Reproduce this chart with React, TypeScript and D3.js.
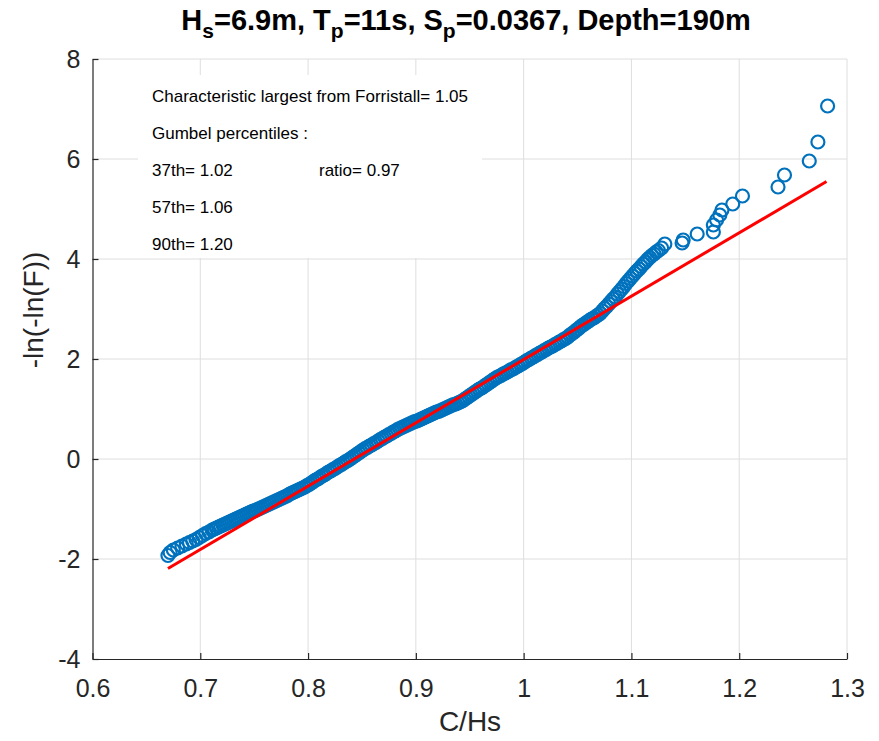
import React, { useRef, useEffect } from 'react';
import { select, scaleLinear, axisBottom, axisLeft, line } from 'd3';

const xTicks = [0.6, 0.7, 0.8, 0.9, 1, 1.1, 1.2, 1.3];
const yTicks = [-4, -2, 0, 2, 4, 6, 8];

// sorted samples, C/Hs vs reduced variate
const lowerTail = [
  [0.670, -1.93], [0.672, -1.87], [0.675, -1.82], [0.679, -1.78], [0.683, -1.74],
  [0.687, -1.70], [0.690, -1.67], [0.693, -1.64], [0.696, -1.61], [0.699, -1.57],
  [0.702, -1.53], [0.705, -1.49], [0.708, -1.46], [0.711, -1.42], [0.713, -1.40],
  [0.715, -1.38], [0.717, -1.36], [0.719, -1.34], [0.721, -1.32], [0.723, -1.30],
  [0.725, -1.28], [0.727, -1.26], [0.729, -1.24], [0.731, -1.22], [0.733, -1.20],
];

const mainBand = [
  [0.735, -1.18], [0.737, -1.16], [0.739, -1.14], [0.741, -1.12], [0.743, -1.10],
  [0.745, -1.08], [0.747, -1.06], [0.749, -1.04], [0.751, -1.03], [0.753, -1.01],
  [0.755, -0.99], [0.757, -0.97], [0.759, -0.95], [0.761, -0.93], [0.763, -0.91],
  [0.765, -0.89], [0.767, -0.87], [0.769, -0.85], [0.771, -0.83], [0.773, -0.81],
  [0.775, -0.79], [0.777, -0.77], [0.779, -0.75], [0.781, -0.73], [0.783, -0.70],
  [0.785, -0.68], [0.787, -0.66], [0.789, -0.64], [0.791, -0.62], [0.793, -0.60],
  [0.795, -0.58], [0.797, -0.56], [0.799, -0.53], [0.801, -0.51], [0.803, -0.48],
  [0.805, -0.45], [0.807, -0.42], [0.809, -0.40], [0.811, -0.37], [0.813, -0.34],
  [0.815, -0.32], [0.817, -0.29], [0.819, -0.26], [0.821, -0.24], [0.823, -0.21],
  [0.825, -0.19], [0.827, -0.16], [0.829, -0.13], [0.831, -0.11], [0.833, -0.08],
  [0.835, -0.05], [0.837, -0.03], [0.839, 0.00], [0.841, 0.03], [0.843, 0.06],
  [0.845, 0.09], [0.847, 0.12], [0.849, 0.15], [0.851, 0.18], [0.853, 0.21],
  [0.855, 0.23], [0.857, 0.26], [0.859, 0.28], [0.861, 0.31], [0.863, 0.33],
  [0.865, 0.36], [0.867, 0.39], [0.869, 0.41], [0.871, 0.44], [0.873, 0.46],
  [0.875, 0.49], [0.877, 0.51], [0.879, 0.54], [0.881, 0.56], [0.883, 0.59],
  [0.885, 0.61], [0.887, 0.63], [0.889, 0.65], [0.891, 0.67], [0.893, 0.69],
  [0.895, 0.71], [0.897, 0.73], [0.899, 0.75], [0.901, 0.76], [0.903, 0.78],
  [0.905, 0.80], [0.907, 0.82], [0.909, 0.84], [0.911, 0.86], [0.913, 0.88],
  [0.915, 0.90], [0.917, 0.92], [0.919, 0.94], [0.921, 0.95], [0.923, 0.97],
  [0.925, 0.99], [0.927, 1.01], [0.929, 1.03], [0.931, 1.05], [0.933, 1.07],
  [0.935, 1.09], [0.937, 1.10], [0.939, 1.12], [0.941, 1.14], [0.943, 1.16],
  [0.945, 1.19], [0.947, 1.22], [0.949, 1.25], [0.951, 1.28], [0.953, 1.31],
  [0.955, 1.34], [0.957, 1.37], [0.959, 1.40], [0.961, 1.42], [0.963, 1.45],
  [0.965, 1.48], [0.967, 1.51], [0.969, 1.54], [0.971, 1.57], [0.973, 1.60],
  [0.975, 1.63], [0.977, 1.65], [0.979, 1.67], [0.981, 1.70], [0.983, 1.72],
  [0.985, 1.74], [0.987, 1.77], [0.989, 1.79], [0.991, 1.81], [0.993, 1.84],
  [0.995, 1.86], [0.997, 1.89], [0.999, 1.91], [1.001, 1.94], [1.003, 1.97],
  [1.005, 1.99], [1.007, 2.02], [1.009, 2.04], [1.011, 2.07], [1.013, 2.09],
  [1.015, 2.12], [1.017, 2.14], [1.019, 2.17], [1.021, 2.19], [1.023, 2.22],
  [1.025, 2.24], [1.027, 2.26], [1.029, 2.29], [1.031, 2.31], [1.033, 2.34],
  [1.035, 2.36], [1.037, 2.39], [1.039, 2.41], [1.041, 2.44], [1.043, 2.48],
  [1.045, 2.51], [1.047, 2.54], [1.049, 2.58], [1.051, 2.61], [1.053, 2.65],
  [1.055, 2.68], [1.057, 2.71], [1.059, 2.74], [1.061, 2.77], [1.063, 2.80],
  [1.065, 2.82], [1.067, 2.85], [1.069, 2.88], [1.071, 2.91], [1.073, 2.96],
  [1.075, 3.01], [1.077, 3.05], [1.079, 3.10], [1.081, 3.15], [1.083, 3.20],
  [1.085, 3.24], [1.087, 3.30], [1.089, 3.35], [1.091, 3.40], [1.093, 3.45],
  [1.095, 3.51], [1.097, 3.56], [1.099, 3.61], [1.101, 3.66], [1.103, 3.71],
  [1.105, 3.76], [1.107, 3.80], [1.109, 3.85], [1.111, 3.90], [1.113, 3.94],
  [1.115, 3.99], [1.117, 4.03], [1.119, 4.07], [1.121, 4.10], [1.123, 4.14],
  [1.125, 4.17],
];

const upperTail = [
  [1.128, 4.22], [1.131, 4.3], [1.147, 4.32], [1.148, 4.38], [1.161, 4.5],
  [1.176, 4.54], [1.176, 4.68], [1.179, 4.78], [1.182, 4.88], [1.184, 4.98],
  [1.194, 5.1], [1.203, 5.26], [1.236, 5.44], [1.242, 5.68], [1.265, 5.96],
  [1.273, 6.34], [1.282, 7.06],
];

const fitLine = [[0.670, -2.19], [1.281, 5.55]];

const titleParts = [
  { t: 'H', sub: false }, { t: 's', sub: true }, { t: '=6.9m, T', sub: false },
  { t: 'p', sub: true }, { t: '=11s, S', sub: false }, { t: 'p', sub: true },
  { t: '=0.0367, Depth=190m', sub: false },
];

const notes = [
  { text: 'Characteristic largest from Forristall= 1.05', col: 0, row: 0 },
  { text: 'Gumbel percentiles :', col: 0, row: 1 },
  { text: '37th= 1.02', col: 0, row: 2 },
  { text: 'ratio= 0.97', col: 1, row: 2 },
  { text: '57th= 1.06', col: 0, row: 3 },
  { text: '90th= 1.20', col: 0, row: 4 },
];

const FONT = '"Liberation Sans", Arial, Helvetica, sans-serif';
const INK = '#262626';

function App() {
  const svgRef = useRef(null);

  useEffect(() => {
    const svg = select(svgRef.current);
    svg.selectAll('*').remove();

    const x = scaleLinear().domain([0.6, 1.3]).range([92.5, 847]);
    const y = scaleLinear().domain([-4, 8]).range([659, 59]);

    // grid
    const grid = svg.append('g').attr('stroke', '#dedede').attr('stroke-width', 1);
    grid.selectAll('.gx')
      .data(xTicks.slice(1))
      .join('line')
      .attr('x1', (d) => x(d)).attr('x2', (d) => x(d))
      .attr('y1', y(-4)).attr('y2', y(8));
    grid.selectAll('.gy')
      .data(yTicks.slice(1))
      .join('line')
      .attr('x1', x(0.6)).attr('x2', x(1.3))
      .attr('y1', (d) => y(d)).attr('y2', (d) => y(d));

    // axes
    const xAxis = axisBottom(x).tickValues(xTicks).tickSizeInner(-6).tickSizeOuter(0)
      .tickPadding(20).tickFormat((d) => String(d));
    const gx = svg.append('g').attr('transform', `translate(0,${y(-4)})`).call(xAxis);

    const yAxis = axisLeft(y).tickValues(yTicks).tickSizeInner(-6).tickSizeOuter(0)
      .tickPadding(12).tickFormat((d) => String(d));
    const gy = svg.append('g').attr('transform', `translate(${x(0.6)},0)`).call(yAxis);

    [gx, gy].forEach((g) => {
      g.attr('font-family', FONT).attr('font-size', 25);
      g.selectAll('path, line').attr('stroke', INK).attr('stroke-width', 1.2);
      g.selectAll('text').attr('fill', INK);
    });

    // labels
    svg.append('text')
      .attr('x', 470).attr('y', 731)
      .attr('text-anchor', 'middle')
      .attr('font-family', FONT).attr('font-size', 28).attr('fill', INK)
      .text('C/Hs');

    svg.append('text')
      .attr('transform', 'translate(43,310) rotate(-90)')
      .attr('text-anchor', 'middle')
      .attr('font-family', FONT).attr('font-size', 28).attr('fill', INK)
      .text('-ln(-ln(F))');

    const title = svg.append('text')
      .attr('x', 466).attr('y', 30)
      .attr('text-anchor', 'middle')
      .attr('font-family', FONT).attr('font-size', 29).attr('font-weight', 'bold')
      .attr('fill', '#000');
    titleParts.forEach((p, i) => {
      const prevSub = i > 0 && titleParts[i - 1].sub;
      title.append('tspan')
        .attr('dy', p.sub ? 8 : prevSub ? -8 : 0)
        .attr('font-size', p.sub ? 21 : 29)
        .text(p.t);
    });

    // annotation box
    svg.append('rect')
      .attr('x', 138).attr('y', 75).attr('width', 344).attr('height', 183)
      .attr('fill', '#fff');
    svg.selectAll('.note')
      .data(notes)
      .join('text')
      .attr('class', 'note')
      .attr('x', (d) => (d.col === 0 ? 152 : 319))
      .attr('y', (d) => 102 + d.row * 37)
      .attr('font-family', FONT).attr('font-size', 17).attr('fill', '#000')
      .text((d) => d.text);

    // samples
    const samples = [...lowerTail, ...mainBand, ...upperTail];
    svg.append('g')
      .selectAll('circle')
      .data(samples)
      .join('circle')
      .attr('cx', (d) => x(d[0]))
      .attr('cy', (d) => y(d[1]))
      .attr('r', 6.5)
      .attr('fill', 'none')
      .attr('stroke', '#0072BD')
      .attr('stroke-width', 2.2);

    // fitted Gumbel line
    svg.append('path')
      .datum(fitLine)
      .attr('d', line().x((d) => x(d[0])).y((d) => y(d[1])))
      .attr('stroke', '#ff0000')
      .attr('stroke-width', 3)
      .attr('fill', 'none');
  }, []);

  return (
    <svg
      ref={svgRef}
      width={879}
      height={741}
      style={{ position: 'absolute', left: 0, top: 0, background: '#fff' }}
    />
  );
}

export default App;
